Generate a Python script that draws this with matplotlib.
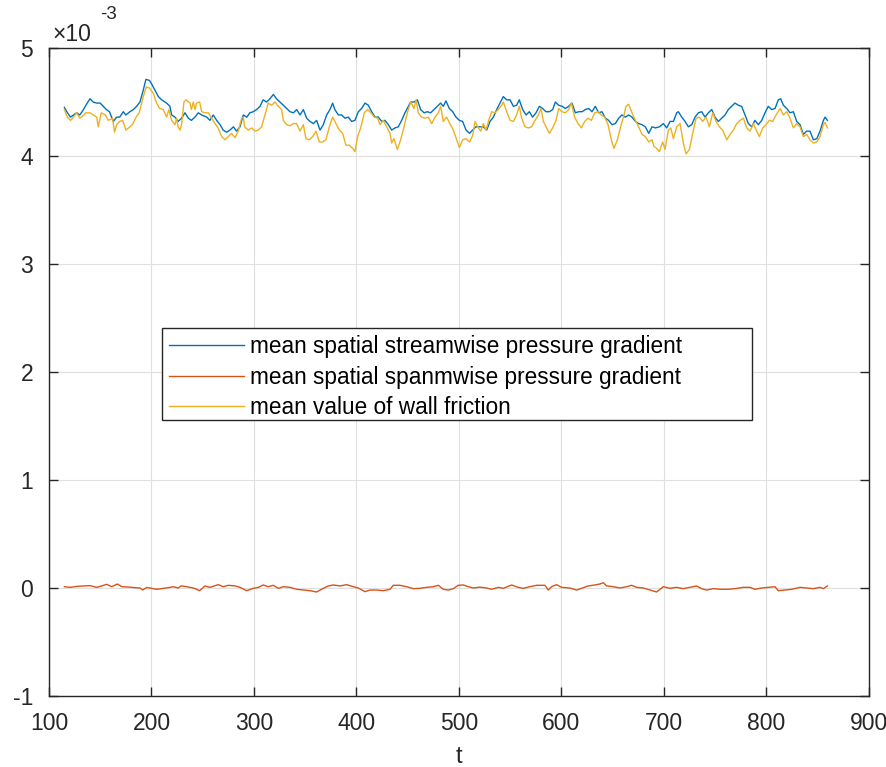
import numpy as np
import matplotlib
matplotlib.use('Agg')
import matplotlib.pyplot as plt
from matplotlib.ticker import FuncFormatter
from matplotlib.patches import Rectangle

plt.rcParams['font.family'] = ['Liberation Sans', 'DejaVu Sans']
plt.rcParams['axes.unicode_minus'] = False

# values, in units of 1e-3
t_stream = [115, 118, 121, 124, 127, 130, 133, 136, 140, 143, 146.6, 149.9, 153, 156, 159, 162.8,
            166, 169, 172.5, 175, 179, 182.3, 185.5, 188.8, 192, 194.6, 198, 200, 203.4, 206.7,
            210, 214.8, 218, 219.7, 223, 226, 229.4, 232.7, 236, 239, 242.5, 245.7, 249, 254,
            257, 260.3, 263.6, 267, 270, 273.4, 276.6, 280, 283, 286.4, 289.6, 293, 296, 299.4,
            302.6, 306, 309, 312.4, 315.6, 319, 322, 325.4, 328.7, 332, 335.2, 338.5, 341.7, 345,
            348.2, 351.5, 354.7, 358, 361.2, 364.5, 367.7, 371, 374.2, 376.8, 379, 382.4, 385.6,
            388.9, 392.1, 395.4, 398.6, 401.9, 405.1, 408.4, 411.6, 414.9, 418.2, 421.4, 424.7,
            427.9, 431.2, 434.4, 437.7, 440.9, 444.2, 447.4, 450.7, 453, 456.2, 459.5, 462.7,
            466, 469.2, 472.5, 475.7, 479, 482.2, 484.8, 487.4, 490.7, 494, 497.2, 500.5, 503.7,
            507, 510.5, 513.5, 516.7, 520, 523.9, 527.2, 530.4, 533.7, 536.9, 540.2, 543.4,
            546.7, 550, 553.2, 556.4, 559, 562.3, 565.6, 568.8, 572, 575.3, 578.6, 581.8, 585,
            588.3, 591.6, 594.2, 597.4, 600.7, 604, 607.2, 610.4, 613.7, 617, 620.2, 623.5,
            626.7, 630, 633.2, 636.5, 639.7, 643, 646.2, 649.5, 652.7, 656, 659.2, 662.5, 665.7,
            669, 672.3, 675.5, 678.8, 682, 685.3, 688.5, 691.8, 695.7, 699.6, 702.9, 706.1,
            709.4, 712.6, 714.3, 717.5, 720.8, 724, 727.3, 730.5, 733.8, 737, 740.3, 743.5,
            746.8, 750, 753.3, 756.5, 759.8, 763, 766.3, 769.5, 772.8, 776, 779.3, 782.6, 785.8,
            789, 792.3, 795.6, 798.8, 802, 805.3, 808.6, 811.8, 814.1, 816.7, 820, 823.2, 826.5,
            829.7, 833, 836.2, 839.5, 842.7, 846, 849.3, 852.5, 855.8, 857.4, 859.7]
stream = [4.45, 4.40, 4.36, 4.38, 4.40, 4.38, 4.42, 4.47, 4.53, 4.50, 4.49, 4.49, 4.46, 4.43, 4.41,
          4.32, 4.36, 4.36, 4.41, 4.38, 4.41, 4.43, 4.46, 4.50, 4.61, 4.71, 4.70, 4.67, 4.61, 4.55,
          4.52, 4.49, 4.46, 4.38, 4.36, 4.32, 4.35, 4.40, 4.35, 4.33, 4.36, 4.40, 4.38, 4.36, 4.33,
          4.38, 4.33, 4.29, 4.24, 4.22, 4.24, 4.27, 4.23, 4.27, 4.38, 4.36, 4.40, 4.41, 4.43, 4.46,
          4.52, 4.50, 4.53, 4.57, 4.53, 4.50, 4.47, 4.44, 4.41, 4.40, 4.43, 4.38, 4.43, 4.35, 4.32,
          4.30, 4.33, 4.24, 4.29, 4.38, 4.43, 4.49, 4.43, 4.38, 4.38, 4.35, 4.36, 4.32, 4.33, 4.41,
          4.44, 4.49, 4.47, 4.41, 4.36, 4.36, 4.32, 4.33, 4.29, 4.24, 4.26, 4.27, 4.33, 4.40, 4.46,
          4.50, 4.50, 4.52, 4.43, 4.40, 4.41, 4.40, 4.43, 4.46, 4.49, 4.46, 4.51, 4.44, 4.41, 4.36,
          4.33, 4.32, 4.24, 4.21, 4.24, 4.27, 4.27, 4.27, 4.24, 4.32, 4.36, 4.43, 4.49, 4.55, 4.52,
          4.52, 4.46, 4.47, 4.52, 4.43, 4.38, 4.41, 4.36, 4.40, 4.46, 4.44, 4.41, 4.41, 4.43, 4.50,
          4.47, 4.46, 4.44, 4.46, 4.49, 4.40, 4.41, 4.41, 4.43, 4.44, 4.41, 4.46, 4.40, 4.41, 4.35,
          4.33, 4.29, 4.30, 4.35, 4.38, 4.36, 4.38, 4.36, 4.32, 4.30, 4.29, 4.27, 4.21, 4.27, 4.26,
          4.27, 4.30, 4.26, 4.32, 4.32, 4.40, 4.41, 4.36, 4.32, 4.27, 4.29, 4.36, 4.40, 4.41, 4.36,
          4.40, 4.43, 4.36, 4.32, 4.35, 4.38, 4.43, 4.46, 4.49, 4.47, 4.46, 4.38, 4.30, 4.27, 4.33,
          4.29, 4.33, 4.40, 4.46, 4.43, 4.44, 4.52, 4.53, 4.47, 4.44, 4.40, 4.41, 4.32, 4.29, 4.20,
          4.23, 4.23, 4.15, 4.16, 4.23, 4.33, 4.36, 4.33]

t_span = [115, 120.5, 127, 133.5, 140, 146.5, 151.4, 156.3, 161.2, 166.7, 171, 177.4, 184, 188.8,
          191.4, 195.3, 200.2, 205, 211.5, 216.5, 221.3, 226.2, 229, 234.4, 240.9, 247, 252.2,
          257, 265.2, 270, 275, 281.5, 286.4, 292.9, 299.4, 304.3, 309.1, 314, 319, 323.8, 328.7,
          335.2, 341.7, 348.2, 354.7, 361.2, 367.7, 372.6, 377.5, 384, 390.5, 397, 401.9, 408.4,
          413.2, 419.7, 426.3, 432.8, 436, 442.5, 449, 455.5, 462, 468.5, 475, 480, 484.8, 489.7,
          494.6, 499.4, 504.3, 509.2, 514.1, 520.6, 527.1, 532, 538.5, 543.4, 551.5, 558, 562.9,
          569.4, 575.9, 584, 587.3, 590.5, 595.4, 600.3, 608.4, 615, 619.8, 626.3, 632.8, 637.7,
          641, 644.2, 650.7, 657.2, 663.7, 668.6, 673.5, 680, 686.5, 693, 699.5, 706, 712.5, 719,
          725.5, 732, 736.9, 741.8, 748.3, 754.8, 763, 769.5, 777.6, 784.1, 789, 795.5, 802,
          808.5, 811.8, 818.3, 824.8, 832.9, 839.4, 845.9, 852.4, 855.7, 859.6]
span = [0.012, 0.006, 0.015, 0.019, 0.022, 0.006, 0.019, 0.034, 0.012, 0.037, 0.012, 0.009, 0.003,
        0.0, -0.019, 0.005, -0.003, -0.012, -0.003, 0.003, 0.012, 0.0, 0.02, 0.012, 0.0, -0.025,
        0.019, 0.006, 0.031, 0.012, 0.025, 0.019, 0.006, -0.025, -0.003, 0.006, 0.028, 0.012,
        0.025, -0.003, 0.012, 0.006, -0.012, -0.019, -0.025, -0.037, -0.003, 0.019, 0.028, 0.019,
        0.031, 0.012, 0.0, -0.034, -0.019, -0.019, -0.025, -0.012, 0.025, 0.025, 0.012, -0.006,
        -0.003, 0.006, 0.012, 0.025, -0.012, -0.019, -0.006, 0.025, 0.028, 0.012, 0.0, 0.008,
        0.0, -0.012, 0.006, -0.003, 0.028, 0.006, -0.003, 0.012, 0.025, 0.025, -0.019, 0.012,
        0.031, 0.006, 0.0, -0.019, -0.003, 0.019, 0.028, 0.037, 0.049, 0.019, 0.012, 0.0, 0.012,
        0.025, 0.006, 0.0, -0.019, -0.037, 0.012, -0.003, 0.006, -0.006, 0.006, 0.019, -0.006,
        -0.019, -0.006, -0.012, -0.012, -0.006, 0.006, 0.006, -0.012, 0.0, 0.006, 0.012, -0.025,
        -0.019, -0.012, 0.006, 0.0, -0.006, 0.006, -0.006, 0.019]

t_wall = [115, 118, 121, 124, 127, 130, 133, 136, 140, 143, 146.6, 148, 151, 155, 158, 162, 164,
          166, 169, 172, 175, 179, 182, 185, 188, 192, 195, 198, 201.8, 205, 208, 211.5, 214.8,
          217, 219.7, 223, 224.5, 226, 228, 229.5, 231.7, 234, 237.6, 239, 240.8, 242.5, 244, 247,
          249, 252, 255.5, 258.7, 262, 265, 268.5, 271.7, 275, 278, 281.5, 284.7, 288, 289.6, 291,
          294.5, 297.8, 301, 304.3, 307.5, 310.8, 314, 317.3, 320.5, 323.8, 327, 328.7, 332, 335,
          338.5, 341.7, 345, 348.2, 350.8, 354, 357.3, 360.6, 363.8, 367, 370.3, 373.6, 376.8,
          380, 383.3, 386.6, 389.8, 393, 396.4, 398.6, 401.2, 404.5, 407.7, 411, 414.2, 417.5,
          420.8, 423, 426.3, 429.5, 432.8, 434.4, 436.7, 440, 443.2, 446.5, 449.7, 453, 456.2,
          458.2, 460.4, 463.7, 467, 470.2, 473.5, 476.7, 480, 482.2, 484.8, 488, 491.3, 494.6,
          497.9, 500.5, 503.7, 507, 510.5, 513.5, 515.8, 519, 521.3, 523.9, 526.5, 529.8, 532,
          535.3, 538.5, 541.8, 543.4, 546.7, 550, 553.2, 556.4, 559, 561.3, 564.6, 567.8, 571,
          574.3, 577.6, 580.2, 582.5, 585.7, 588.3, 591.6, 594.8, 597.4, 600.7, 604, 607.2, 609.8,
          613, 616.3, 619.6, 622.8, 626, 629.3, 632.6, 635.8, 639, 642.3, 645.6, 648.8, 651.4,
          654.7, 657.9, 661.2, 663.1, 665.7, 669, 672.3, 675.5, 678.8, 682, 685.3, 688.5, 690.5,
          693.1, 695.7, 699, 701.2, 704.5, 706.8, 709.4, 712.6, 715.9, 719.1, 721.7, 725, 728.2,
          731.5, 734.7, 738, 741.3, 744.5, 747.8, 751, 754.3, 757.5, 761.4, 764.7, 767.9, 771.2,
          774.4, 777.7, 781, 784.2, 787.4, 790.7, 793.3, 796.6, 799.8, 803, 806.3, 809.6, 813.5,
          816.7, 820, 823.2, 826.5, 829.7, 833, 836.2, 839.5, 842.7, 846, 849.3, 852.5, 855.8,
          857.4, 859.7]
wall = [4.43, 4.36, 4.33, 4.36, 4.40, 4.35, 4.37, 4.40, 4.40, 4.38, 4.36, 4.27, 4.40, 4.38, 4.33,
        4.35, 4.22, 4.29, 4.32, 4.33, 4.24, 4.27, 4.30, 4.36, 4.40, 4.55, 4.64, 4.63, 4.58, 4.49,
        4.44, 4.43, 4.36, 4.43, 4.33, 4.29, 4.35, 4.27, 4.24, 4.30, 4.50, 4.52, 4.49, 4.43, 4.50,
        4.43, 4.49, 4.50, 4.41, 4.40, 4.40, 4.35, 4.30, 4.26, 4.18, 4.15, 4.18, 4.21, 4.17, 4.23,
        4.35, 4.36, 4.27, 4.24, 4.26, 4.23, 4.24, 4.27, 4.38, 4.49, 4.47, 4.50, 4.46, 4.43, 4.33,
        4.29, 4.28, 4.30, 4.30, 4.23, 4.29, 4.16, 4.15, 4.18, 4.23, 4.13, 4.13, 4.15, 4.27, 4.36,
        4.30, 4.24, 4.21, 4.10, 4.10, 4.07, 4.04, 4.18, 4.27, 4.40, 4.43, 4.40, 4.36, 4.35, 4.29,
        4.33, 4.27, 4.21, 4.12, 4.16, 4.06, 4.15, 4.27, 4.40, 4.50, 4.44, 4.52, 4.40, 4.36, 4.35,
        4.36, 4.30, 4.36, 4.40, 4.46, 4.32, 4.36, 4.30, 4.24, 4.15, 4.08, 4.15, 4.16, 4.13, 4.19,
        4.32, 4.26, 4.23, 4.30, 4.24, 4.35, 4.41, 4.40, 4.43, 4.47, 4.50, 4.41, 4.33, 4.32, 4.38,
        4.46, 4.35, 4.27, 4.26, 4.27, 4.33, 4.38, 4.44, 4.32, 4.26, 4.21, 4.26, 4.33, 4.44, 4.41,
        4.40, 4.43, 4.49, 4.36, 4.30, 4.26, 4.32, 4.35, 4.33, 4.40, 4.41, 4.38, 4.36, 4.29, 4.15,
        4.07, 4.15, 4.27, 4.38, 4.46, 4.48, 4.40, 4.33, 4.27, 4.20, 4.18, 4.13, 4.15, 4.09, 4.07,
        4.04, 4.13, 4.06, 4.24, 4.26, 4.16, 4.27, 4.30, 4.12, 4.02, 4.06, 4.21, 4.35, 4.36, 4.32,
        4.36, 4.27, 4.40, 4.32, 4.27, 4.24, 4.15, 4.20, 4.24, 4.30, 4.33, 4.35, 4.26, 4.23, 4.30,
        4.23, 4.18, 4.26, 4.29, 4.33, 4.32, 4.38, 4.44, 4.38, 4.41, 4.35, 4.26, 4.30, 4.27, 4.18,
        4.20, 4.15, 4.12, 4.13, 4.18, 4.29, 4.31, 4.26]

labels = ['mean spatial streamwise pressure gradient',
          'mean spatial spanmwise pressure gradient',
          'mean value of wall friction']
colors = ['#0072BD', '#D95319', '#EDB120']
scale = 1e-3
dark = '#262626'

fig = plt.figure(figsize=(8.87, 7.67), dpi=100)
ax = fig.add_axes([49 / 887, 1 - 696 / 767, 819.7 / 887, 648 / 767])

ax.plot(t_stream, np.array(stream) * scale, color=colors[0], lw=1.0, label=labels[0])
ax.plot(t_span, np.array(span) * scale, color=colors[1], lw=1.0, label=labels[1])
ax.plot(t_wall, np.array(wall) * scale, color=colors[2], lw=1.0, label=labels[2])

ax.set_xlim(100, 900)
ax.set_ylim(-1e-3, 5e-3)
ax.set_xticks(np.arange(100, 901, 100))
ax.set_yticks(np.arange(-1, 5.1, 1) * scale)
ax.yaxis.set_major_formatter(FuncFormatter(lambda v, p: f'{v / scale:g}'))

# MATLAB style exponent label above the y axis
ax.annotate('×10', xy=(0, 1), xycoords='axes fraction', xytext=(2.2, 5.3),
            textcoords='offset points', fontsize=16.5, color=dark, va='baseline', ha='left')
ax.annotate('-3', xy=(0, 1), xycoords='axes fraction', xytext=(36.5, 21),
            textcoords='offset points', fontsize=13.5, color=dark, va='baseline', ha='left')

ax.grid(True, color='#dfdfdf', lw=0.8)
ax.set_axisbelow(True)
for s in ax.spines.values():
    s.set_color(dark)
    s.set_linewidth(1.0)
ax.tick_params(direction='in', length=6.5, width=1.0, labelsize=16.5, colors=dark,
               top=True, right=True, pad=11.5)
ax.set_xlabel('t', fontsize=17, color=dark, labelpad=8)

# legend box is wider than its text, as in the reference
ax.add_patch(Rectangle((0.1379, 0.4259), 0.7197, 0.142, transform=ax.transAxes,
                       facecolor='white', edgecolor=dark, lw=1.0, zorder=4.5))
leg = ax.legend(loc='upper left', bbox_to_anchor=(0.1379, 0.5679), borderaxespad=0,
                fontsize=16.3, handlelength=3.3, handletextpad=0.27, labelspacing=0.33,
                frameon=False, borderpad=0.32)
leg.set_zorder(5)

fig.savefig('out.png', dpi=100)
